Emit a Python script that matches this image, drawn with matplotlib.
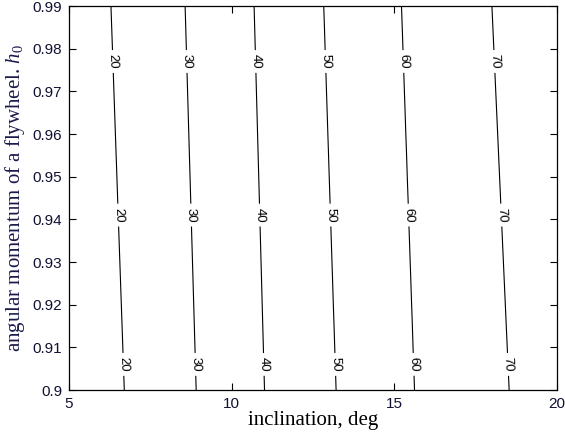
import numpy as np
import matplotlib
matplotlib.use("Agg")
import matplotlib.pyplot as plt
from matplotlib.ticker import FormatStrFormatter

plt.rcParams["mathtext.fontset"] = "custom"
plt.rcParams["mathtext.rm"] = "Liberation Serif"
plt.rcParams["mathtext.it"] = "Liberation Serif:italic"
plt.rcParams["mathtext.bf"] = "Liberation Serif:bold"

# Contour levels and where each level crosses the bottom (h0 = 0.90)
# and top (h0 = 0.99) edges of the plotted range, in degrees of inclination.
levels = [20, 30, 40, 50, 60, 70]
x_at_h_low = [6.70, 8.91, 11.01, 13.21, 15.62, 18.53]
x_at_h_high = [6.29, 8.57, 10.69, 12.83, 15.22, 18.00]
h_range = [0.90, 0.99]
incl_range = [5, 20]
label_h = [0.977, 0.941, 0.906]

x_ticks = [5, 10, 15, 20]
y_ticks = [0.90, 0.91, 0.92, 0.93, 0.94, 0.95, 0.96, 0.97, 0.98, 0.99]

# Build a field whose iso-lines pass through the crossings above
xg = np.linspace(incl_range[0], incl_range[1], 601)
yg = np.linspace(h_range[0], h_range[1], 10)
lv = np.asarray(levels, float)
lo = np.asarray(x_at_h_low)
hi = np.asarray(x_at_h_high)
Z = np.empty((yg.size, xg.size))
for i, h in enumerate(yg):
    t = (h - h_range[0]) / (h_range[1] - h_range[0])
    xs = lo + (hi - lo) * t
    xs_ext = np.r_[2 * xs[0] - xs[1], xs, 2 * xs[-1] - xs[-2]]
    lv_ext = np.r_[2 * lv[0] - lv[1], lv, 2 * lv[-1] - lv[-2]]
    Z[i] = np.interp(xg, xs_ext, lv_ext)

fig = plt.figure(figsize=(5.65, 4.36), dpi=100)
ax = fig.add_axes([0.1221, 0.1055, 0.8637, 0.8807])

cs = ax.contour(xg, yg, Z, levels=levels, colors="black", linewidths=0.8)

# label positions along each line
manual = []
for k in range(len(levels)):
    for h in label_h:
        t = (h - h_range[0]) / (h_range[1] - h_range[0])
        manual.append((lo[k] + (hi[k] - lo[k]) * t, h))
ax.clabel(cs, levels, inline=True, fmt="%d", fontsize=9.5, manual=manual,
          inline_spacing=3)
for txt in cs.labelTexts:
    txt.set_fontfamily("Liberation Sans")

ax.set_xlim(incl_range)
ax.set_ylim(h_range)
ax.set_xticks(x_ticks)
ax.set_yticks(y_ticks)
ax.yaxis.set_major_formatter(FormatStrFormatter("%g"))
ax.xaxis.set_major_formatter(FormatStrFormatter("%g"))
ax.tick_params(direction="in", length=5, width=0.8, top=True, right=True,
               labelsize=11, pad=5)
for lab in ax.get_xticklabels() + ax.get_yticklabels():
    lab.set_fontfamily("Liberation Sans")
    lab.set_color("#111133")
for s in ax.spines.values():
    s.set_linewidth(0.9)

ax.set_xlabel("inclination, deg", fontfamily="Liberation Serif", fontsize=15,
              labelpad=0)
ax.set_ylabel(r"angular momentum of a flywheel. $h_0$",
              fontfamily="Liberation Serif", fontsize=15, color="#1a1a4a",
              labelpad=4)

fig.savefig("out.png", dpi=100)
